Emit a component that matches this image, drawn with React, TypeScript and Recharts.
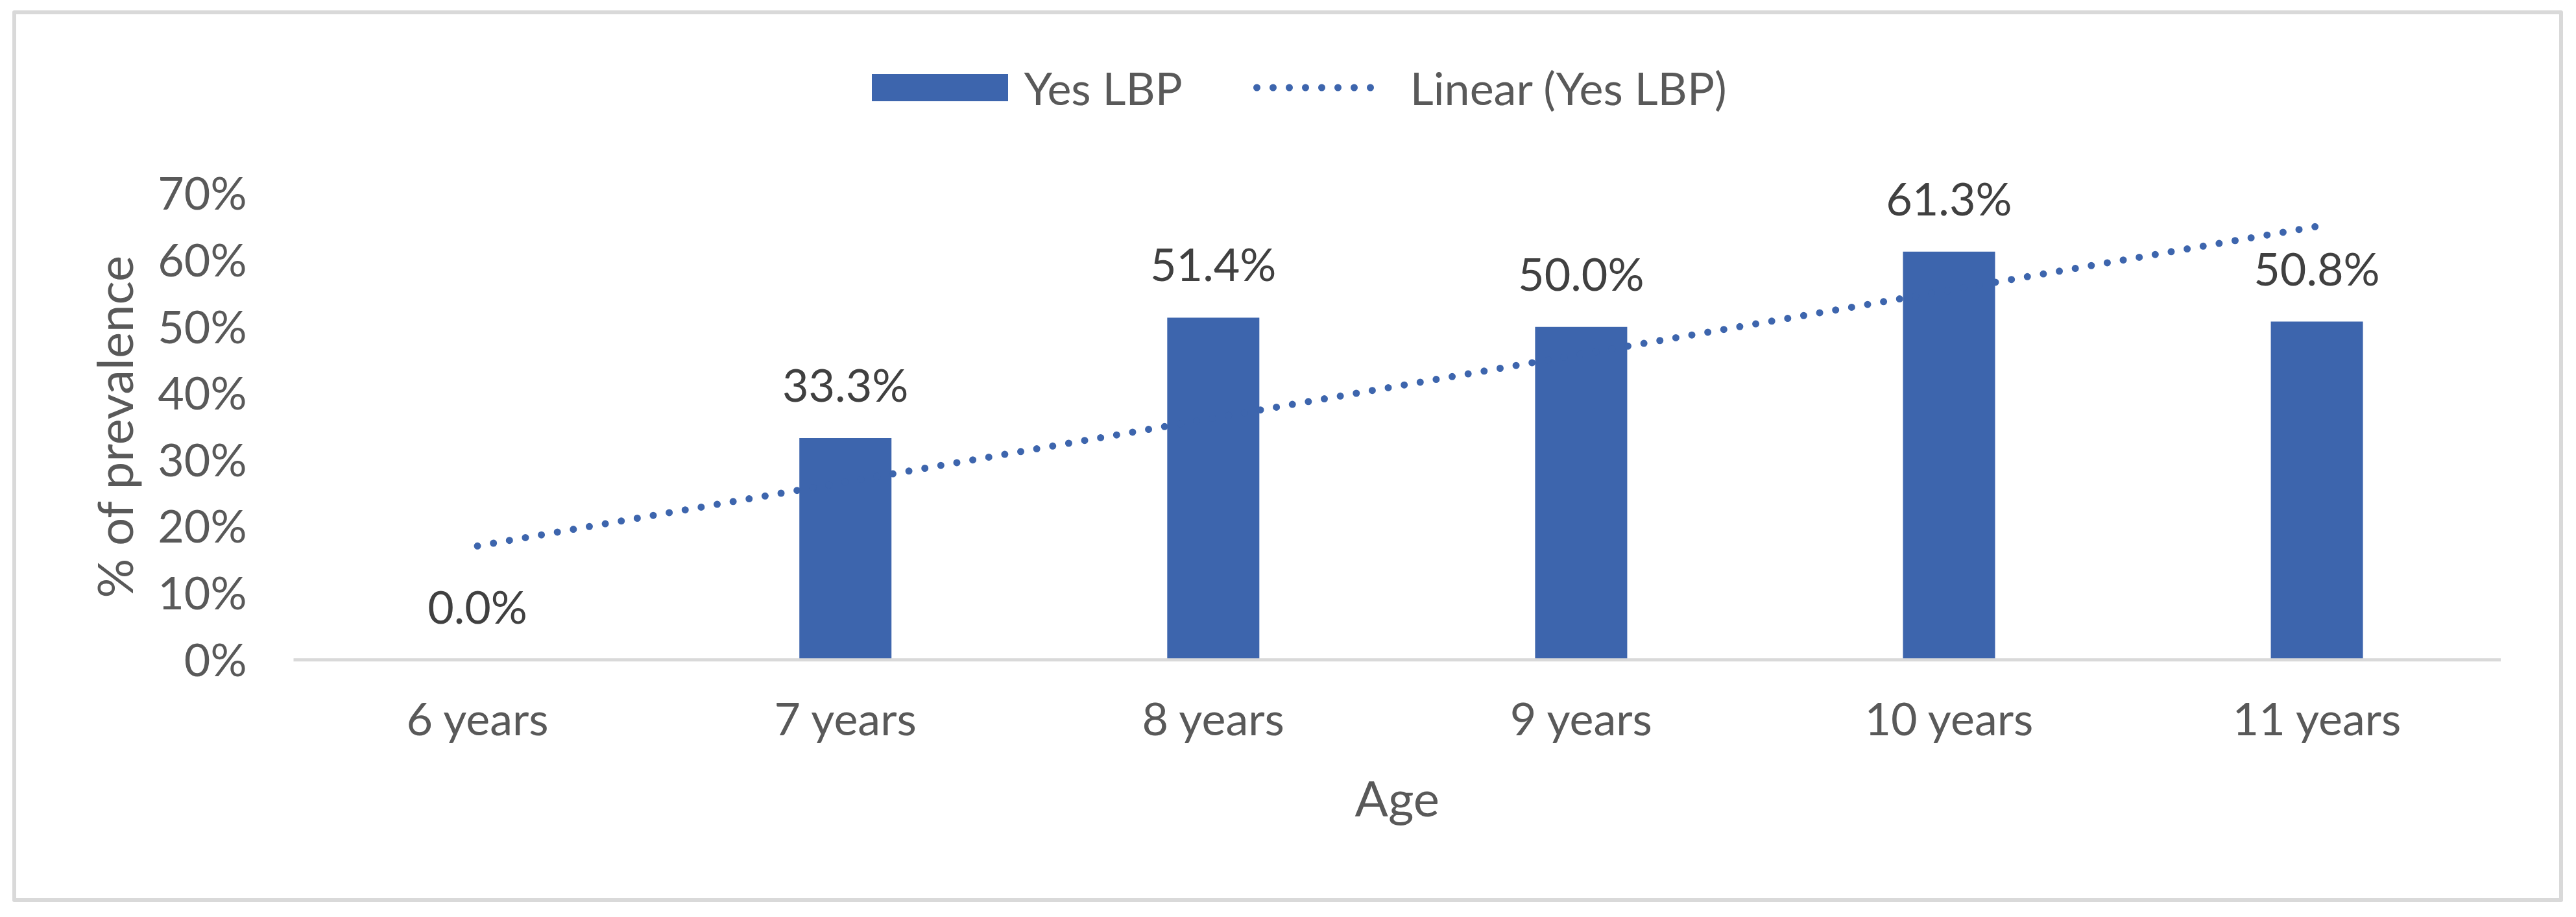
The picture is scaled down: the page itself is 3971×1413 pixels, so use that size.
import React from 'react';
import { ComposedChart, Bar, Line, XAxis, YAxis, LabelList } from 'recharts';

// data
const ages = ['6 years', '7 years', '8 years', '9 years', '10 years', '11 years'];
const yesLbp = [0, 33.3, 51.4, 50.0, 61.3, 50.8];
// Excel linear trendline, read at its two ends (6 and 11 years)
const trendLbp = [17.1, null, null, null, null, 65.1];
const yTicks = [0, 10, 20, 30, 40, 50, 60, 70];

const data = ages.map((age, i) => ({ age, yes: yesLbp[i], trend: trendLbp[i] }));

const FONT = 'Lato, "Open Sans", sans-serif';
const BLUE = '#3d65ad';
const GREY = '#595959';

const YTitle = (props: any) => {
  const vb = props.viewBox || {};
  const cx = vb.x - 97;
  const cy = vb.y + vb.height / 2;
  return (
    <text
      x={cx}
      y={cy}
      transform={`rotate(-90, ${cx}, ${cy})`}
      textAnchor="middle"
      fill={GREY}
      fontSize={76}
      fontFamily={FONT}
    >
      % of prevalence
    </text>
  );
};

const XTitle = (props: any) => {
  const vb = props.viewBox || {};
  return (
    <text
      x={vb.x + vb.width / 2}
      y={vb.y + 241}
      textAnchor="middle"
      fill={GREY}
      fontSize={76}
      fontFamily={FONT}
    >
      Age
    </text>
  );
};

const ChartLegend = () => (
  <div
    style={{
      position: 'absolute',
      top: 100,
      left: 0,
      width: 4006,
      height: 70,
      display: 'flex',
      alignItems: 'center',
      justifyContent: 'center',
      fontFamily: FONT,
      fontSize: 70,
      lineHeight: 1,
      color: GREY,
      whiteSpace: 'nowrap',
    }}
  >
    <div style={{ width: 210, height: 42, background: BLUE }} />
    <span style={{ marginLeft: 24 }}>Yes LBP</span>
    <svg width={211} height={14} style={{ marginLeft: 109 }}>
      <line
        x1={5.5}
        y1={7}
        x2={205.5}
        y2={7}
        stroke={BLUE}
        strokeWidth={11}
        strokeLinecap="round"
        strokeDasharray="0 25"
      />
    </svg>
    <span style={{ marginLeft: 31 }}>Linear (Yes LBP)</span>
  </div>
);

export default function App() {
  return (
    <div style={{ position: 'absolute', left: 0, top: 0, width: 3971, height: 1413, background: '#fff' }}>
      <div
        style={{
          position: 'absolute',
          left: 19,
          top: 16,
          width: 3932,
          height: 1374,
          border: '6px solid #d9d9d9',
          borderRadius: 3,
          boxSizing: 'border-box',
        }}
      />
      <ChartLegend />
      <div style={{ position: 'absolute', left: 0, top: 0 }}>
        <ComposedChart
          width={3971}
          height={1413}
          data={data}
          margin={{ top: 298.6, right: 116, bottom: 276.3, left: 302.5 }}
          barCategoryGap="37.5%"
        >
          <XAxis
            dataKey="age"
            height={120}
            interval={0}
            axisLine={{ stroke: '#d9d9d9', strokeWidth: 5 }}
            tickLine={false}
            tickSize={0}
            tickMargin={67}
            tick={{ fill: GREY, fontSize: 70, fontFamily: FONT }}
            label={<XTitle />}
          />
          <YAxis
            width={150}
            domain={[0, 70]}
            ticks={yTicks}
            interval={0}
            tickFormatter={(v: number) => `${v}%`}
            axisLine={false}
            tickLine={false}
            tickSize={0}
            tickMargin={72}
            tick={{ fill: GREY, fontSize: 70, fontFamily: FONT }}
            label={<YTitle />}
          />
          <Bar dataKey="yes" fill={BLUE} isAnimationActive={false} />
          {/* invisible line over the bar tops, only to carry the value labels (incl. the 0.0% one) */}
          <Line
            dataKey="yes"
            stroke="none"
            dot={false}
            activeDot={false}
            legendType="none"
            isAnimationActive={false}
          >
            <LabelList
              dataKey="yes"
              position="top"
              offset={56}
              formatter={(v: any) => `${Number(v).toFixed(1)}%`}
              fill="#404040"
              fontSize={70}
              fontFamily={FONT}
            />
          </Line>
          <Line
            dataKey="trend"
            connectNulls
            dot={false}
            activeDot={false}
            stroke={BLUE}
            strokeWidth={11}
            strokeLinecap="round"
            strokeDasharray="0 25"
            isAnimationActive={false}
          />
        </ComposedChart>
      </div>
    </div>
  );
}
